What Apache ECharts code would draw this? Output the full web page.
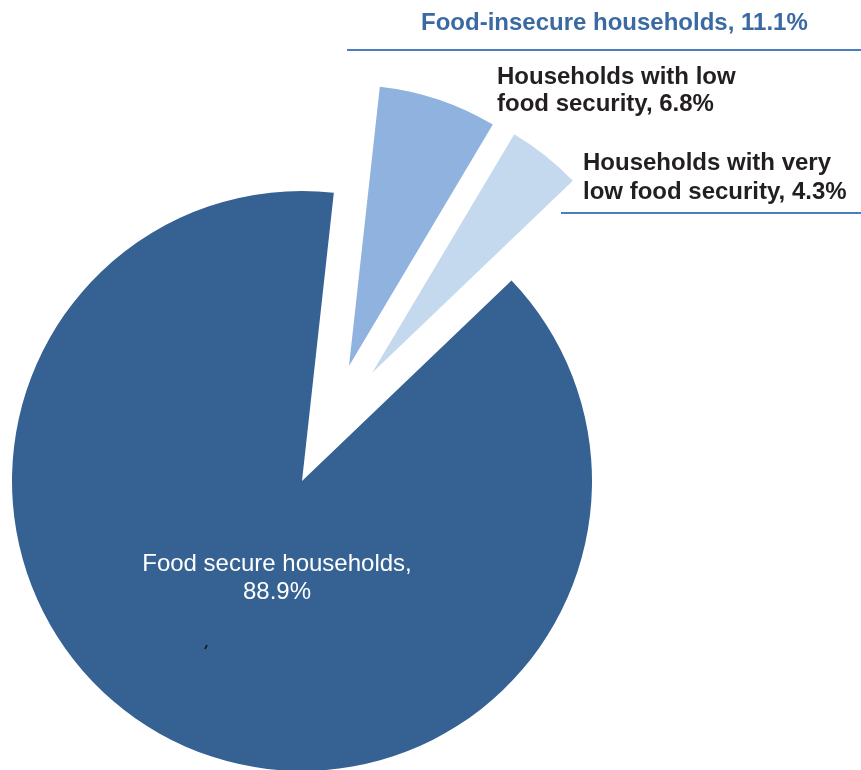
<!DOCTYPE html>
<html>
<head>
<meta charset="utf-8">
<title>Food security of households</title>
<script src="https://cdn.jsdelivr.net/npm/echarts@6/dist/echarts.min.js"></script>
<style>
  html, body { margin: 0; padding: 0; background: #fff; }
  #chart { width: 861px; height: 770px; }
</style>
</head>
<body>
<div id="chart"></div>
<script>
// slices, in drawing order (clockwise from just right of 12 o'clock)
const names = ['Households with low food security', 'Households with very low food security', 'Food secure households']
const shares = [6.8, 4.3, 88.9]
const colors = ['#8fb3de', '#c5d9ee', '#356193']

// label texts
const lowLabel = ['Households with low', 'food security, ' + shares[0] + '%']
const veryLowLabel = ['Households with very', 'low food security, ' + shares[1] + '%']
const secureLabel = ['Food secure households,', shares[2] + '%']
const insecureTotal = 'Food-insecure households, ' + (shares[0] + shares[1]).toFixed(1) + '%'

const font = '"Liberation Sans", Arial, Helvetica, sans-serif'

// each slice is pulled out on its own, so every slice gets its own pie
// (same angles), only its own wedge painted
const sliceCenters = [[349, 366], [372, 373], [302, 481]]
const sliceRadius = [281, 278, 290]

let mychart = echarts.init(document.getElementById('chart'))
mychart.setOption({
  animation: false,
  series: names.map((_, k) => ({
    type: 'pie',
    center: sliceCenters[k],
    radius: sliceRadius[k],
    startAngle: 83.7,
    clockwise: true,
    silent: true,
    label: { show: false },
    labelLine: { show: false },
    emphasis: { disabled: true },
    data: names.map((n, i) => ({
      name: n,
      value: shares[i],
      itemStyle: { color: i === k ? colors[i] : 'rgba(0,0,0,0)' },
    })),
  })),
  graphic: [
    // header over the two food-insecure slices
    {
      type: 'text',
      left: 421,
      top: 11,
      z: 100,
      style: { text: insecureTotal, font: 'bold 24px ' + font, fill: '#3b6aa3' },
    },
    {
      type: 'line',
      z: 100,
      shape: { x1: 347, y1: 50, x2: 861, y2: 50 },
      style: { stroke: '#4a7ebf', lineWidth: 2 },
    },
    {
      type: 'text',
      left: 497,
      top: 64,
      z: 100,
      style: { text: lowLabel.join('\n'), font: 'bold 24px ' + font, fill: '#231f20', lineHeight: 27 },
    },
    {
      type: 'text',
      left: 583,
      top: 149,
      z: 100,
      style: { text: veryLowLabel.join('\n'), font: 'bold 24px ' + font, fill: '#231f20', lineHeight: 29 },
    },
    {
      type: 'line',
      z: 100,
      shape: { x1: 561, y1: 213, x2: 861, y2: 213 },
      style: { stroke: '#4a7ebf', lineWidth: 2 },
    },
    // label inside the big slice
    {
      type: 'text',
      x: 277,
      y: 550,
      z: 100,
      style: {
        text: secureLabel.join('\n'),
        font: '24px ' + font,
        fill: '#ffffff',
        align: 'center',
        lineHeight: 28,
      },
    },
    // small stray mark in the source
    {
      type: 'line',
      z: 100,
      shape: { x1: 205, y1: 649, x2: 207, y2: 645 },
      style: { stroke: '#111', lineWidth: 1.5 },
    },
  ],
})
</script>
</body>
</html>
